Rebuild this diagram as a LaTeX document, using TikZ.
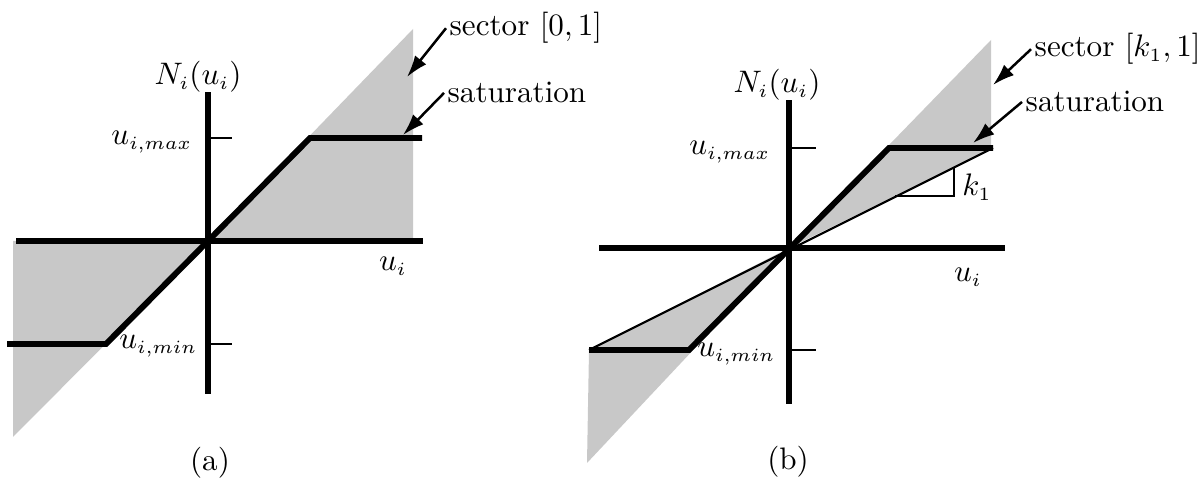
\documentclass[tikz,border=0pt]{standalone}
\usepackage{amsmath}
\usepackage{xcolor}
\usepackage{tikz}
\usetikzlibrary{arrows.meta, calc}
\DeclareMathSizes{10}{10}{6}{5}
\definecolor{scShade}{HTML}{C8C8C8}
\tikzset{
  sc-axis/.style={line width=1.9pt, draw=black},
  sc-sat/.style={line width=1.9pt, draw=black, line join=miter},
  sc-tick/.style={line width=0.5pt, draw=black},
  sc-gain/.style={line width=0.7pt, draw=black},
  sc-sector/.style={fill=scShade, draw=none},
  sc-ptr/.style={-{Latex[length=7pt,width=4.6pt]}, line width=0.8pt},
  sc-lbl/.style={inner sep=1pt},
}

\begin{document}
\begin{tikzpicture}[x=1.13cm, y=1.13cm]
  \useasboundingbox (0,0) rectangle (12.04,4.78);

  \begin{scope}[shift={(2.08,2.37)}]
    \coordinate (a-max) at (0,1.03);
    \coordinate (a-min) at (0,-1.03);
    \fill[sc-sector] (0,0) -- (2.05,2.12) -- (2.05,0) -- cycle;
    \fill[sc-sector] (0,0) -- (-1.95,-1.96) -- (-1.95,0) -- cycle;
    \draw[sc-axis] (-1.92,0) -- (2.15,0);
    \draw[sc-axis] (0,-1.53) -- (0,1.49);
    \draw[sc-tick] (a-max) -- ++(0.24,0);
    \draw[sc-tick] (a-min) -- ++(0.24,0);
    \draw[sc-sat] (-2.01,-1.03) -- (-1.02,-1.03) -- (1.02,1.03) -- (2.14,1.03);

    \node[sc-lbl]                    (a-N)    at (-0.10,1.64)  {$N_i(u_i)$};
    \node[sc-lbl, anchor=east]       (a-umax) at (-0.12,0.99)  {$u_{i,max}$};
    \node[sc-lbl, anchor=east]       (a-umin) at (-0.07,-1.05) {$u_{i,min}$};
    \node[sc-lbl]                    (a-u)    at (1.85,-0.25)  {$u_i$};
    \node                            (a-cap)  at (0.02,-2.22)  {(a)};
    \node[sc-lbl, anchor=base west]  (a-sec)  at (2.38,2.05)   {sector $[0,1]$};
    \node[sc-lbl, anchor=base west]  (a-sat)  at (2.36,1.38)   {saturation};
    \coordinate (a-sec-tip) at (1.99,1.64);
    \coordinate (a-sat-tip) at (1.95,1.06);
    \draw[sc-ptr] (a-sec.west) -- (a-sec-tip);
    \draw[sc-ptr] (a-sat.west) -- (a-sat-tip);
  \end{scope}

  \begin{scope}[shift={(7.89,2.30)}]
    \coordinate (b-max) at (0,1.0);
    \coordinate (b-min) at (0,-1.02);
    \coordinate (b-lo)  at (-2.0,-1.02);
    \coordinate (b-hi)  at (2.04,1.0);
    \fill[sc-sector] (0,0) -- (2.02,2.08) -- (2.02,0.99) -- cycle;
    \fill[sc-sector] (0,0) -- (b-lo) -- (-2.02,-2.15) -- cycle;
    \draw[sc-gain] (b-lo) -- (b-hi);
    \draw[sc-tick] ($(0,0)!0.52!(b-hi)$) -| ($(0,0)!0.81!(b-hi)$);
    \draw[sc-axis] (-1.90,0) -- (2.16,0);
    \draw[sc-axis] (0,-1.56) -- (0,1.48);
    \draw[sc-tick] (b-max) -- ++(0.27,0);
    \draw[sc-tick] (b-min) -- ++(0.27,0);
    \draw[sc-sat] (b-lo) -- (-1.0,-1.02) -- (1.0,1.0) -- (b-hi);

    \node[sc-lbl]                    (b-N)    at (-0.12,1.63)  {$N_i(u_i)$};
    \node[sc-lbl, anchor=east]       (b-umax) at (-0.15,0.96)  {$u_{i,max}$};
    \node[sc-lbl, anchor=east]       (b-umin) at (-0.10,-1.06) {$u_{i,min}$};
    \node[sc-lbl]                    (b-u)    at (1.79,-0.29)  {$u_i$};
    \node[sc-lbl]                    (b-k)    at (1.88,0.61)   {$k_1$};
    \node                            (b-cap)  at (-0.01,-2.14) {(b)};
    \node[sc-lbl, anchor=base west]  (b-sec)  at (2.42,1.91)   {sector $[k_1,1]$};
    \node[sc-lbl, anchor=base west]  (b-sat)  at (2.33,1.36)   {saturation};
    \coordinate (b-sec-tip) at (2.04,1.63);
    \coordinate (b-sat-tip) at (1.84,1.05);
    \draw[sc-ptr] (b-sec.west) -- (b-sec-tip);
    \draw[sc-ptr] (b-sat.west) -- (b-sat-tip);
  \end{scope}
\end{tikzpicture}
\end{document}
